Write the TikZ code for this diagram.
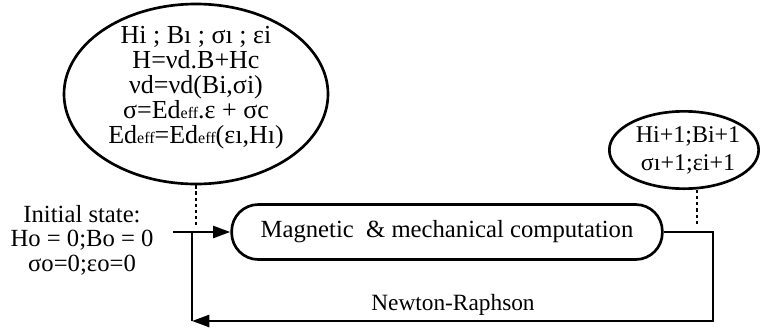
\documentclass[tikz,border=0pt]{standalone}
\usepackage{fontspec}
\setmainfont{Liberation Serif}
\usetikzlibrary{arrows.meta, positioning, shapes.geometric}
\tikzset{
  every picture/.style={line width=2pt, x=0.75pt, y=-0.75pt},
  txt/.style={font=\fontsize{18.5}{18.75}\selectfont, align=center, inner sep=0pt},
  bubble/.style={draw, ellipse, inner sep=0pt},
  flow/.style={-{Triangle[length=13pt,width=9pt]}},
  tap/.style={dash pattern=on 2.4pt off 2.2pt, line width=2.2pt},
}
\newcommand{\sm}[1]{{\fontsize{12}{12}\selectfont #1}}

\begin{document}
\begin{tikzpicture}
  \useasboundingbox (0,0) rectangle (760,333);
  % state of iteration i
  \node[bubble, minimum width=198pt, minimum height=135pt] (state) at (196,94) {};
  \node[txt, font=\fontsize{19.5}{18.75}\selectfont] (statetxt) at (196,88) {Hi ; Bı ; σı ; εi\\ H=νd.B+Hc\\ νd=νd(Bi,σi)\\ σ=Ed\sm{eff}.ε + σc\\ Ed\sm{eff}=Ed\sm{eff}(εı,Hı)};
  % state of iteration i+1
  \node[bubble, minimum width=112pt, minimum height=58pt] (next) at (684,150) {};
  \node[txt, font=\fontsize{18}{21}\selectfont] (nexttxt) at (688,150) {Hi+1;Bi+1\\ σı+1;εi+1};
  \node[txt, draw, rounded corners=20pt, minimum width=323pt, minimum height=41.25pt] (solver) at (447,232) {Magnetic \ \& mechanical computation};
  \node[txt, font=\fontsize{18.5}{18.4}\selectfont] (init) at (82,240) {Initial state:\\ Ho = 0;Bo = 0\\ σo=0;εo=0};
  \node[txt, font=\fontsize{17.5}{18}\selectfont] (nr) at (453,305) {Newton-Raphson};
  \coordinate (start) at (173,232);
  \coordinate (join) at (192,232);
  \coordinate (turn) at (713,232);
  \coordinate (back) at (192,321);
  \coordinate (tapL) at (196,226);
  \coordinate (tapR) at (697,226);
  \draw[flow] (start) -- (solver);
  \draw[flow] (solver.east) -- (turn) |- (back);
  \draw (back) -- (join);
  \draw[tap] (state.south) -- (tapL);
  \draw[tap] (next.south -| tapR) -- (tapR);
\end{tikzpicture}
\end{document}
